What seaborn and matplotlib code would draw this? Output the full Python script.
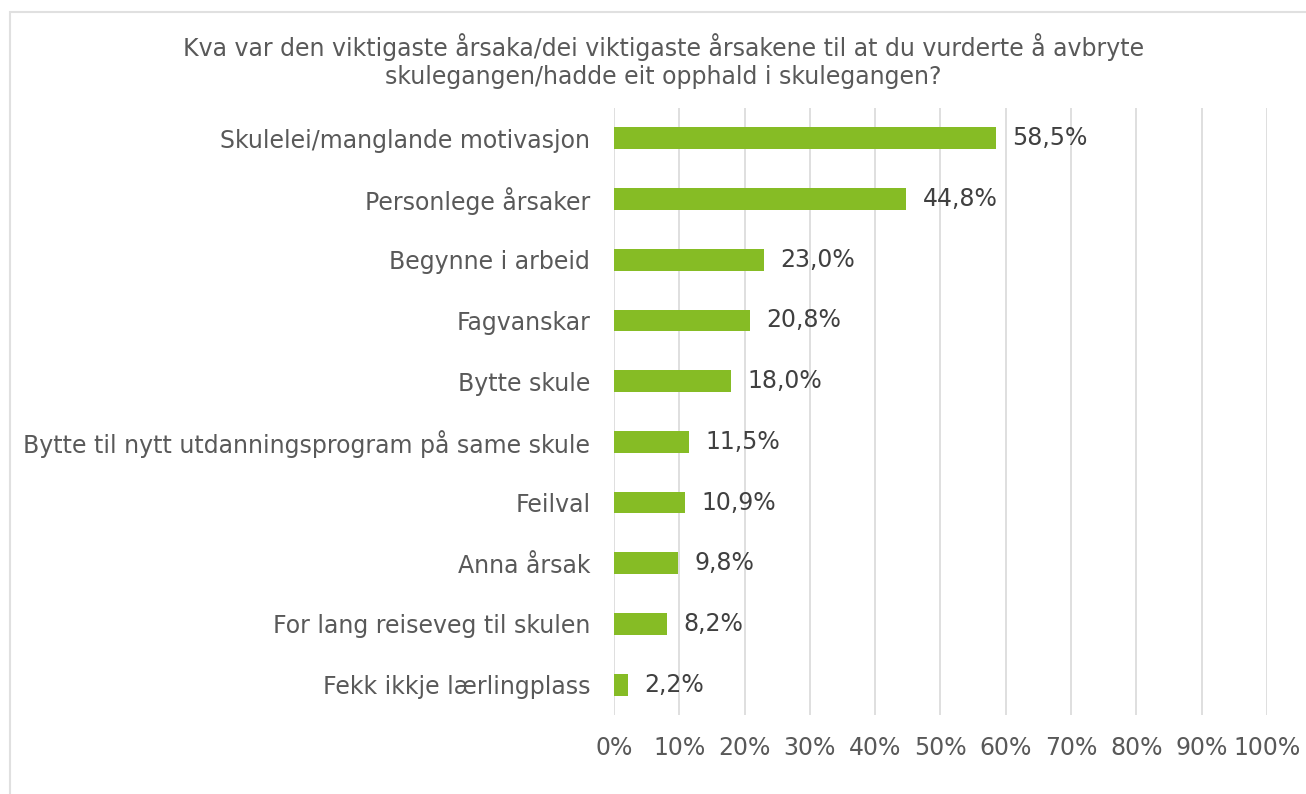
import matplotlib.pyplot as plt
import matplotlib.patches as mpatches
import numpy as np
import pandas as pd
import seaborn as sns

# Data
reasons = ['Skulelei/manglande motivasjon', 'Personlege årsaker', 'Begynne i arbeid',
           'Fagvanskar', 'Bytte skule', 'Bytte til nytt utdanningsprogram på same skule',
           'Feilval', 'Anna årsak', 'For lang reiseveg til skulen', 'Fekk ikkje lærlingplass']
shares = [58.5, 44.8, 23.0, 20.8, 18.0, 11.5, 10.9, 9.8, 8.2, 2.2]
x_ticks = [0, 10, 20, 30, 40, 50, 60, 70, 80, 90, 100]

df = pd.DataFrame({'Reason': reasons, 'Share': shares})

sns.set_style('white')
plt.rcParams['font.family'] = ['DejaVu Sans']

text_col = '#595959'
grid_col = '#d9d9d9'
bar_col = '#86bc25'
fs = 17

fig = plt.figure(figsize=(13.06, 7.94), dpi=100)
ax = fig.add_axes([0.4701, 0.0995, 0.5, 0.7645])

sns.barplot(data=df, y='Reason', x='Share', color=bar_col, width=0.36,
            saturation=1, orient='h', ax=ax, zorder=3, linewidth=0)

# value labels
for i, v in enumerate(shares):
    ax.text(v + 2.5, i, f'{v:.1f}%'.replace('.', ','), va='center', ha='left',
            fontsize=fs, color='#404040')

ax.set_xlim(0, 100)
ax.set_ylim(len(reasons) - 0.5, -0.5)
ax.set_xticks(x_ticks)
ax.set_xticklabels([f'{t}%' for t in x_ticks])
ax.xaxis.grid(True, color=grid_col, linewidth=1.2, zorder=0)
ax.set_axisbelow(True)
ax.tick_params(axis='x', length=0, pad=15, labelsize=fs, labelcolor=text_col)
ax.tick_params(axis='y', length=0, pad=17, labelsize=fs, labelcolor=text_col)
ax.set_xlabel('')
ax.set_ylabel('')
for s in ax.spines.values():
    s.set_visible(False)

fig.text(0.508, 0.923, 'Kva var den viktigaste årsaka/dei viktigaste årsakene til at du vurderte å avbryte\n'
         'skulegangen/hadde eit opphald i skulegangen?',
         ha='center', va='center', fontsize=fs, color=text_col, linespacing=1.2)

# chart border
border = mpatches.Rectangle((10 / 1306, -0.1), 1.2, 1.1 - 12 / 794, transform=fig.transFigure,
                            fill=False, edgecolor='#e0e0e0', linewidth=1.5, clip_on=False)
fig.patches.append(border)

fig.savefig('out.png', dpi=100)
